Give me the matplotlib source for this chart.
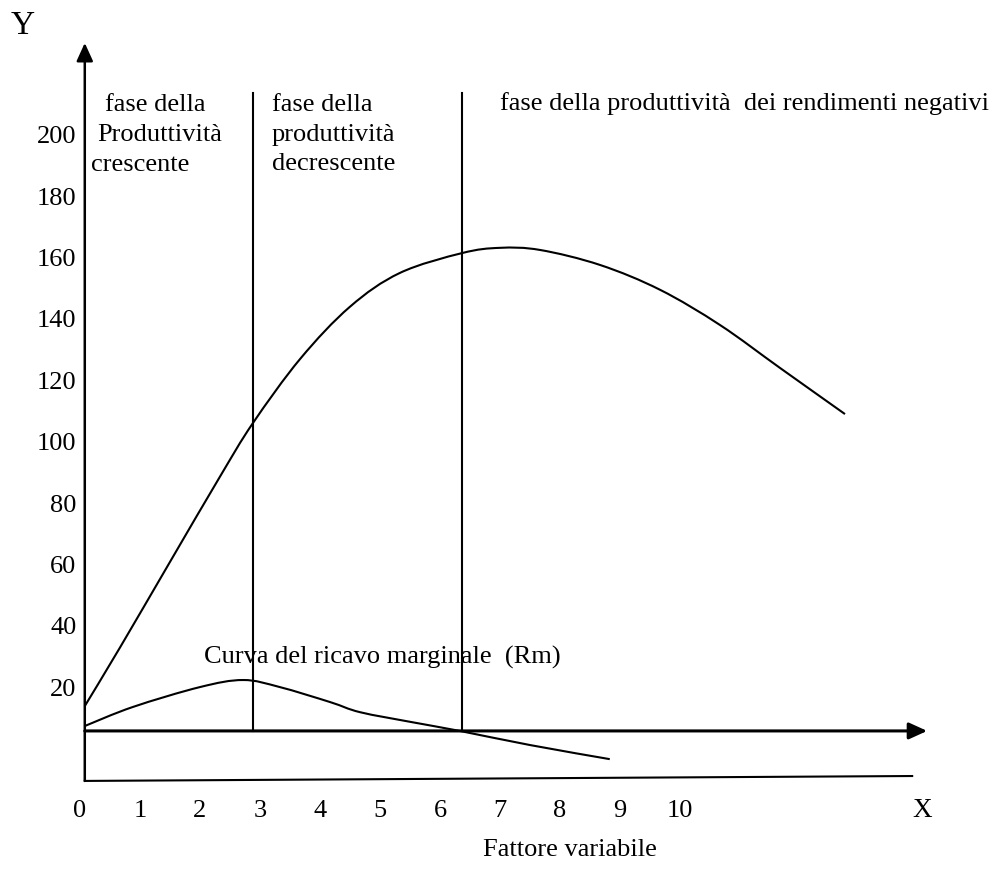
import matplotlib
matplotlib.use("Agg")
import matplotlib.pyplot as plt
from matplotlib.path import Path
from matplotlib.patches import PathPatch

plt.rcParams['font.family'] = ['Liberation Serif', 'DejaVu Serif']

# ---- data ----
x_ticks = [0, 1, 2, 3, 4, 5, 6, 7, 8, 9, 10]
y_ticks = [20, 40, 60, 80, 100, 120, 140, 160, 180, 200]

# total product curve
tot_x = [0.08, 0.67, 1.5, 2.33, 2.88, 3.67, 4.5, 5.33, 6.37, 7.0, 7.67, 8.67, 9.67, 10.67, 11.67, 12.75]
tot_y = [13.8, 33.0, 60.8, 88.5, 106.0, 127.0, 144.0, 155.0, 161.5, 163.2, 162.5, 157.6, 149.5, 138.0, 124.0, 109.0]

# marginal revenue curve (Rm)
rm_x = [0.08, 0.88, 2.0, 2.72, 3.33, 4.17, 4.67, 5.55, 6.33, 7.5, 8.83]
rm_y = [7.3, 13.5, 20.0, 22.3, 20.0, 15.1, 11.8, 8.5, 5.7, 1.1, -3.5]

phase_bounds = [2.88, 6.36]
x_axis_level = 5.7
base_line_y = [-10.6, -9.0]

fig = plt.figure(figsize=(9.93, 8.8), dpi=100)
ax = fig.add_axes([0, 0, 1, 1])
ax.set_xlim(-1.333, 15.217)
ax.set_ylim(-42.9, 244.0)
for s in ax.spines.values():
    s.set_visible(False)
ax.spines['left'].set_position(('data', 0.08))
ax.spines['bottom'].set_position(('data', base_line_y[0]))

fs = 19
ax.set_yticks(y_ticks, [str(v) for v in y_ticks])
ax.set_xticks(x_ticks, [str(v) for v in x_ticks])
ax.tick_params(axis='y', length=0, pad=6, labelsize=fs)
ax.tick_params(axis='x', length=0, pad=14, labelsize=fs)

lw = 1.5


def smooth_curve(xs, ys):
    """Catmull-Rom spline through the read points, rendered as cubic Bezier."""
    pts = list(zip(xs, ys))
    verts = [pts[0]]
    codes = [Path.MOVETO]
    n = len(pts)
    for i in range(n - 1):
        p0 = pts[i - 1] if i > 0 else pts[i]
        p1 = pts[i]
        p2 = pts[i + 1]
        p3 = pts[i + 2] if i + 2 < n else pts[i + 1]
        c1 = (p1[0] + (p2[0] - p0[0]) / 6, p1[1] + (p2[1] - p0[1]) / 6)
        c2 = (p2[0] - (p3[0] - p1[0]) / 6, p2[1] - (p3[1] - p1[1]) / 6)
        verts += [c1, c2, p2]
        codes += [Path.CURVE4] * 3
    return PathPatch(Path(verts, codes), fill=False, edgecolor='black', lw=lw)


ax.add_patch(smooth_curve(tot_x, tot_y))
ax.add_patch(smooth_curve(rm_x, rm_y))

# phase boundaries
for xb in phase_bounds:
    ax.plot([xb, xb], [x_axis_level, 213.7], color='black', lw=lw)

# axes arrows
arrow = dict(arrowstyle='-|>,head_length=1.1,head_width=0.5', color='black',
             lw=2.2, shrinkA=0, shrinkB=0, mutation_scale=10)
ax.annotate('', xy=(14.12, x_axis_level), xytext=(0.08, x_axis_level), arrowprops=arrow)
arrow_y = dict(arrow, lw=1.8)
ax.annotate('', xy=(0.08, 230.0), xytext=(0.08, base_line_y[0]), arrowprops=arrow_y)

# base line
ax.plot([0.08, 13.87], base_line_y, color='black', lw=lw)

# labels
ax.text(-0.95, 235.5, 'Y', fontsize=24, ha='center', va='center')
ax.text(14.03, -20.1, 'X', fontsize=19.5, ha='center', va='center')
ax.text(8.17, -33.0, 'Fattore variabile', fontsize=fs, ha='center', va='center')

ax.text(0.42, 209.8, 'fase della', fontsize=fs, ha='left', va='center')
ax.text(0.28, 200.0, 'Produttività', fontsize=fs, ha='left', va='center')
ax.text(0.18, 190.2, 'crescente', fontsize=fs, ha='left', va='center')

ax.text(3.2, 209.8, 'fase della', fontsize=fs, ha='left', va='center')
ax.text(3.2, 200.0, 'produttività', fontsize=fs, ha='left', va='center')
ax.text(3.2, 190.6, 'decrescente', fontsize=fs, ha='left', va='center')

ax.text(7.0, 210.4, 'fase della produttività  dei rendimenti negativi', fontsize=fs,
        ha='left', va='center')

ax.text(2.07, 29.8, 'Curva del ricavo marginale  (Rm)', fontsize=fs, ha='left', va='center')

fig.savefig('out.png', dpi=100)
